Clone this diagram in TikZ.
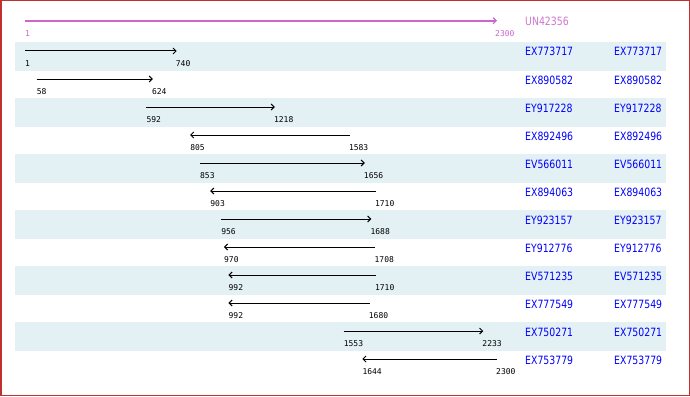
\documentclass[tikz,border=0pt]{standalone}
\usepackage{fontspec}
\setmainfont{DejaVu Sans}
\newfontfamily\idfont[FakeStretch=0.82]{DejaVu Sans}
\newfontfamily\numfont{DejaVu Sans Mono}
\usetikzlibrary{arrows.meta}
\definecolor{bordred}{RGB}{192,48,48}
\definecolor{stripe}{RGB}{227,240,244}
\definecolor{mag}{RGB}{204,102,204}
\definecolor{magtext}{RGB}{204,119,204}
\definecolor{idblue}{RGB}{0,0,255}
\begin{document}
\begin{tikzpicture}[x=1pt,y=-1pt,
  stripebox/.style={fill=stripe,draw=none},
  arrf/.style={line width=1pt,-{Straight Barb[length=3pt,width=6pt,line width=1pt]}},
  arrr/.style={line width=1pt,{Straight Barb[length=3pt,width=6pt,line width=1pt]}-},
  magarrow/.style={draw=mag,line width=2pt,-{Straight Barb[length=3pt,width=6pt,line width=1.2pt]}},
  numlabel/.style={anchor=base west,inner sep=0pt,font=\numfont\fontsize{8}{8}\selectfont},
  idlabel/.style={anchor=base west,inner sep=0pt,text=idblue,font=\idfont\fontsize{11.4}{12}\selectfont}]
\useasboundingbox (0,0) rectangle (690,396);
\fill[white] (0,0) rectangle (690,396);
% stripes
\foreach \i in {1,3,5,7,9,11}{
  \pgfmathsetmacro\yy{51+28*(\i-1)}
  \fill[stripebox] (15,\yy-9) rectangle (666,\yy+19.5);
}
% reference sequence
\coordinate (rs) at (25,20.7);
\coordinate (re) at (497,20.7);
\draw[magarrow] (rs) -- (re);
\node[numlabel,text=mag] (rsl) at (25,36.3) {1};
\node[numlabel,text=mag] (rel) at (495,36.3) {2300};
\node[idlabel,text=magtext] (refid) at (525,26) {UN42356};
% rows
\foreach \i/\s/\e/\d/\id in {
  1/1/740/f/EX773717,
  2/58/624/f/EX890582,
  3/592/1218/f/EY917228,
  4/805/1583/r/EX892496,
  5/853/1656/f/EV566011,
  6/903/1710/r/EX894063,
  7/956/1688/f/EY923157,
  8/970/1708/r/EY912776,
  9/992/1710/r/EV571235,
  10/992/1680/r/EX777549,
  11/1553/2233/f/EX750271,
  12/1644/2300/r/EX753779}{
  \pgfmathsetmacro\yy{51+28*(\i-1)}
  \pgfmathsetmacro\xs{25+(\s-1)*0.2053066}
  \pgfmathsetmacro\xe{25+(\e-1)*0.2053066}
  \coordinate (s\i) at (\xs,\yy);
  \coordinate (e\i) at (\xe,\yy);
  \draw[arr\d] (s\i) -- (e\i);
  \node[numlabel] (ls\i) at (\xs,\yy+15.5) {\s};
  \node[numlabel] (le\i) at (\xe-1,\yy+15.5) {\e};
  \node[idlabel] (ida\i) at (525,\yy+5) {\id};
  \node[idlabel] (idb\i) at (614,\yy+5) {\id};
}
% border
\draw[bordred,line width=1.5pt] (0.75,0.75) rectangle (689.25,395.25);
\end{tikzpicture}
\end{document}
